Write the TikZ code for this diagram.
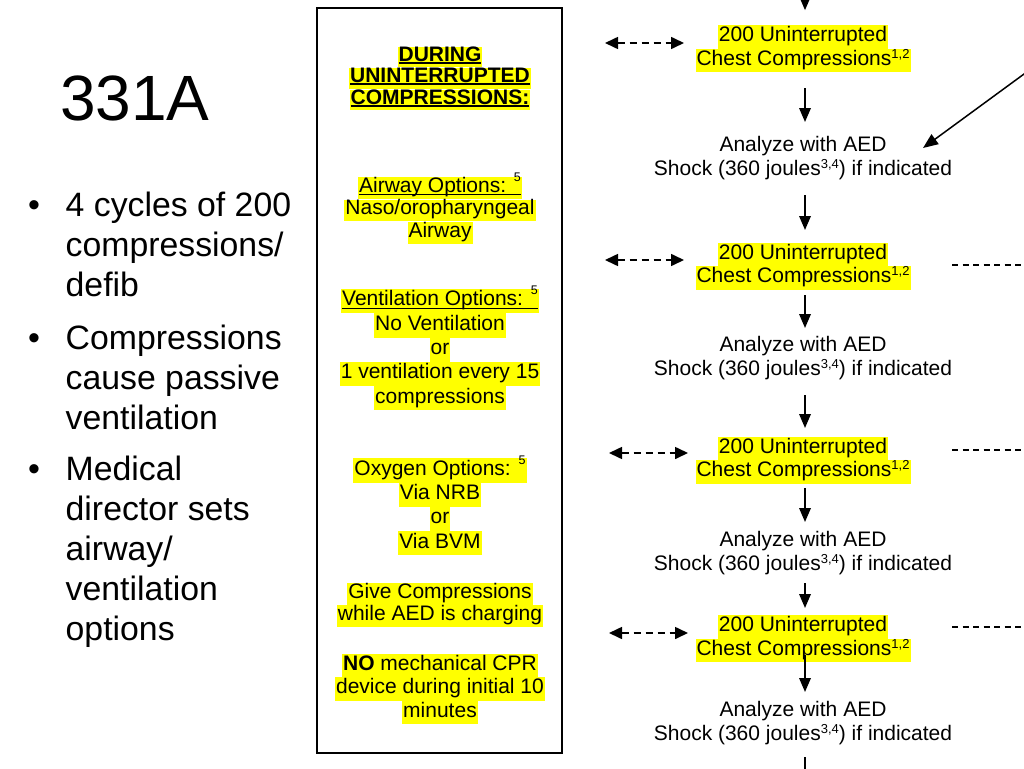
\documentclass[tikz,border=0pt]{standalone}
\usepackage{fontspec}
\setmainfont{Liberation Sans}
\usetikzlibrary{arrows.meta}
\definecolor{hly}{HTML}{FFFF00}
\newcommand\hlt[1]{{\setlength\fboxsep{0pt}\colorbox{hly}{\strut\kern1pt#1\kern1pt}}}
\newcommand\pl[1]{\strut#1}
\newcommand\ulin[2]{\setbox0\hbox{#2}\rlap{\rule[-2.6pt]{\wd0}{#1}}\box0}
\newcommand\supL[1]{\smash{\raisebox{11pt}{\fontsize{12.5}{12.5}\selectfont#1}}}
\newcommand\supR[1]{\smash{\raisebox{7pt}{\fontsize{13}{13}\selectfont#1}}}
\begin{document}
\begin{tikzpicture}[x=1pt,y=-1pt,
  flow/.style={font=\fontsize{21}{23.5}\selectfont,align=center,inner sep=0pt,anchor=north},
  panel/.style={align=center,inner sep=0pt,anchor=north},
  bul/.style={font=\fontsize{33.8}{40}\selectfont,align=left,inner sep=0pt,anchor=north west},
  dot/.style={font=\fontsize{34}{40}\selectfont,inner sep=0pt,anchor=base},
  arr/.style={-{Triangle[length=14pt,width=11.5pt]},line width=1.8pt},
  darr/.style={{Triangle[length=13pt,width=12pt]}-{Triangle[length=13pt,width=12pt]},line width=1.6pt,dash pattern=on 7pt off 5pt},
  dline/.style={line width=1.4pt,dash pattern=on 6pt off 4.5pt}]
\useasboundingbox (0,0) rectangle (1024,768);
\fill[white] (0,0) rectangle (1024,768);
\clip (0,0) rectangle (1024,768);

% title and bullets
\node[font=\fontsize{64}{64}\selectfont,anchor=base west,inner sep=0pt] (title) at (60,120) {331A};
\node[bul] (b1) at (65.5,188.7) {\strut 4 cycles of 200\\compressions/\\defib};
\node[bul] (b2) at (65.5,321) {\strut Compressions\\cause passive\\ventilation};
\node[bul] (b3) at (65.5,452) {\strut Medical\\director sets\\airway/\\ventilation\\options};
\node[dot] (d1) at (34,216.7) {•};
\node[dot] (d2) at (34,349) {•};
\node[dot] (d3) at (34,480) {•};

% left panel
\node[draw,line width=1.2pt,minimum width=245pt,minimum height=745pt,inner sep=0pt] (box) at (439.5,380.5) {};
\node[panel,font=\fontsize{21}{20}\selectfont\bfseries] (p1) at (440,46.5)
  {\hlt{\ulin{2pt}{DURING}}\\\hlt{\ulin{2pt}{UNINTERRUPTED}}\\\hlt{\ulin{2pt}{COMPRESSIONS:}}};
\node[panel,font=\fontsize{21}{21}\selectfont] (p2) at (440,177)
  {\hlt{\ulin{1pt}{Airway Options: \supL{5}}}\\\hlt{Naso/oropharyngeal}\\\hlt{Airway}};
\node[panel,font=\fontsize{21}{24.3}\selectfont] (p3) at (440,288.7)
  {\hlt{\ulin{1pt}{Ventilation Options: \supL{5}}}\\\hlt{No Ventilation}\\\hlt{or}\\\hlt{1 ventilation every 15}\\\hlt{compressions}};
\node[panel,font=\fontsize{21}{24.3}\selectfont] (p4) at (440,458)
  {\hlt{Oxygen Options: \supL{5}}\\\hlt{Via NRB}\\\hlt{or}\\\hlt{Via BVM}};
\node[panel,font=\fontsize{21}{22}\selectfont] (p5) at (440,582.6)
  {\hlt{Give Compressions}\\\hlt{while AED is charging}};
\node[panel,font=\fontsize{21}{23.5}\selectfont] (p6) at (440,653.5)
  {\hlt{\textbf{NO} mechanical CPR}\\\hlt{device during initial 10}\\\hlt{minutes}};

% flowchart
\node[flow] (c1) at (803,25.2) {\hlt{200 Uninterrupted}\\\hlt{Chest Compressions\supR{1,2}}};
\node[flow] (a1) at (803,135.2) {\pl{Analyze with AED}\\\pl{Shock (360 joules\supR{3,4}) if indicated}};
\node[flow] (c2) at (803,242.5) {\hlt{200 Uninterrupted}\\\hlt{Chest Compressions\supR{1,2}}};
\node[flow] (a2) at (803,335.2) {\pl{Analyze with AED}\\\pl{Shock (360 joules\supR{3,4}) if indicated}};
\node[flow] (c3) at (803,436.5) {\hlt{200 Uninterrupted}\\\hlt{Chest Compressions\supR{1,2}}};
\node[flow] (a3) at (803,530.2) {\pl{Analyze with AED}\\\pl{Shock (360 joules\supR{3,4}) if indicated}};
\node[flow] (c4) at (803,615.2) {\hlt{200 Uninterrupted}\\\hlt{Chest Compressions\supR{1,2}}};
\node[flow] (a4) at (803,700.2) {\pl{Analyze with AED}\\\pl{Shock (360 joules\supR{3,4}) if indicated}};

\coordinate (top) at (805,-20);
\coordinate (bot) at (805,790);
\draw[arr,shorten >=15pt] (top) -- ([xshift=2pt]c1.north);
\draw[arr,shorten <=15.8pt,shorten >=13.2pt] ([xshift=2pt]c1.south) -- ([xshift=2pt]a1.north);
\draw[arr,shorten <=12.8pt,shorten >=12.5pt] ([xshift=2pt]a1.south) -- ([xshift=2pt]c2.north);
\draw[arr,shorten <=5.5pt,shorten >=7.2pt] ([xshift=2pt]c2.south) -- ([xshift=2pt]a2.north);
\draw[arr,shorten <=12.8pt,shorten >=8.5pt] ([xshift=2pt]a2.south) -- ([xshift=2pt]c3.north);
\draw[arr,shorten <=4.5pt,shorten >=8.2pt] ([xshift=2pt]c3.south) -- ([xshift=2pt]a3.north);
\draw[arr,shorten <=5.8pt,shorten >=7.2pt] ([xshift=2pt]a3.south) -- ([xshift=2pt]c4.north);
\draw[arr,shorten <=-7.2pt,shorten >=8.2pt] ([xshift=2pt]c4.south) -- ([xshift=2pt]a4.north);
\draw[line width=1.8pt,shorten <=9.8pt] ([xshift=2pt]a4.south) -- (bot);

% left dashed double arrows
\coordinate (l1a) at (605,43);  \coordinate (l1b) at (684,43);
\coordinate (l2a) at (605,260); \coordinate (l2b) at (684,260);
\coordinate (l3a) at (609,453); \coordinate (l3b) at (688,453);
\coordinate (l4a) at (609,633); \coordinate (l4b) at (688,633);
\draw[darr] (l1a) -- (l1b);
\draw[darr] (l2a) -- (l2b);
\draw[darr] (l3a) -- (l3b);
\draw[darr] (l4a) -- (l4b);

% right dashed lines
\coordinate (r2a) at (952,265); \coordinate (r2b) at (1030,265);
\coordinate (r3a) at (952,450); \coordinate (r3b) at (1030,450);
\coordinate (r4a) at (952,627); \coordinate (r4b) at (1030,627);
\draw[dline] (r2a) -- (r2b);
\draw[dline] (r3a) -- (r3b);
\draw[dline] (r4a) -- (r4b);

% diagonal arrow
\coordinate (dg1) at (1034,66.7);
\coordinate (dg2) at (923,148);
\draw[-{Triangle[length=15pt,width=12pt]},line width=1.5pt] (dg1) -- (dg2);
\end{tikzpicture}
\end{document}
